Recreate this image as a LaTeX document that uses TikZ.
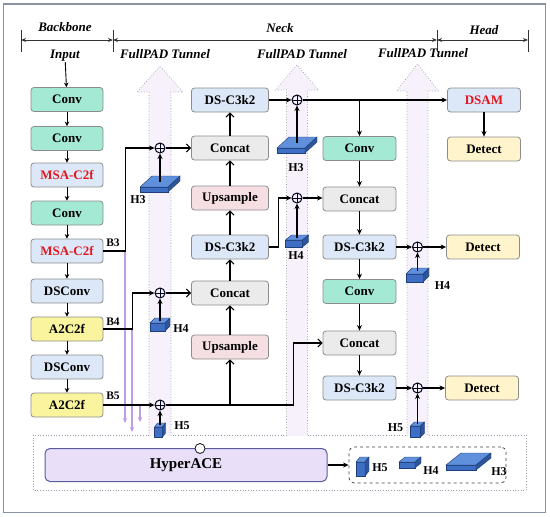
\documentclass[tikz,border=0pt]{standalone}
\usepackage{fontspec}
\setmainfont{Liberation Serif}
\usetikzlibrary{arrows.meta,calc}
\definecolor{convc}{HTML}{A3E9D4}
\definecolor{bluec}{HTML}{DCE8F8}
\definecolor{yelc}{HTML}{FBF49E}
\definecolor{detc}{HTML}{FFF4CC}
\definecolor{grayc}{HTML}{EBEBEB}
\definecolor{pinkc}{HTML}{F5DFE3}
\definecolor{hyperc}{HTML}{E9DFF8}
\definecolor{hyperb}{HTML}{5A5C9E}
\definecolor{boxb}{HTML}{8C8C8C}
\definecolor{redt}{HTML}{E3161E}
\definecolor{lav}{HTML}{BE9CEA}
\definecolor{tunf}{HTML}{F6F1FA}
\definecolor{tunl}{HTML}{9A9AAA}
\definecolor{cubeF}{HTML}{3F6FC4}
\definecolor{cubeT}{HTML}{6090DC}
\definecolor{cubeS}{HTML}{2D5599}
\definecolor{cubeE}{HTML}{1F3F7A}
\definecolor{framec}{HTML}{8A93A6}
\newcommand{\bcube}[6]{%
  \filldraw[fill=cubeF,draw=cubeE,line width=0.4pt] (#1,#2) rectangle ++(#3,-#4);
  \filldraw[fill=cubeT,draw=cubeE,line width=0.4pt] (#1,#2-#4) -- ++(#5,-#6) -- ++(#3,0) -- ++(-#5,#6) -- cycle;
  \filldraw[fill=cubeS,draw=cubeE,line width=0.4pt] (#1+#3,#2) -- ++(#5,-#6) -- ++(0,-#4) -- ++(-#5,#6) -- cycle;
}
\newcommand{\tunnel}[6]{%
  \fill[tunf] (#1,#4) -- (#1-#3,#5) -- (#1-#2,#5) -- (#1-#2,#6) -- (#1+#2,#6) -- (#1+#2,#5) -- (#1+#3,#5) -- cycle;
  \draw[tunl,dotted,line width=0.7pt] (#1-#2,#6) -- (#1-#2,#5) -- (#1-#3,#5) -- (#1,#4) -- (#1+#3,#5) -- (#1+#2,#5) -- (#1+#2,#6);
}
\tikzset{
  blk/.style={draw=boxb, line width=0.8pt, rounded corners=3pt, minimum height=24pt, inner sep=0pt, font=\fontsize{13}{15}\selectfont\bfseries},
  bb/.style={blk, minimum width=72pt},
  nk/.style={blk, minimum width=77pt},
  rk/.style={blk, minimum width=73pt},
  hdr/.style={font=\fontsize{13}{15}\selectfont\bfseries\itshape, inner sep=0pt},
  hl/.style={font=\fontsize{12}{14}\selectfont\bfseries, inner sep=0pt},
  bl/.style={font=\fontsize{11.5}{13}\selectfont\bfseries, inner sep=0pt},
  oplus/.style={circle, draw=black!90!blue, line width=1pt, minimum size=10pt, inner sep=0pt,
    path picture={\draw[line width=1pt] (path picture bounding box.north) -- (path picture bounding box.south) (path picture bounding box.west) -- (path picture bounding box.east);}},
  ar/.style={-{Stealth[length=5.5pt,width=5pt]}, line width=1.1pt},
  ob/.style={-{Straight Barb[length=4pt,width=8pt]}, line width=1.1pt},
  bar/.style={-{Stealth[length=4.5pt,width=4.5pt]}, line width=0.9pt},
  lv/.style={-{Stealth[length=5pt,width=4.5pt]}, line width=1.2pt, draw=lav},
  dim/.style={{Stealth[length=5pt,width=4pt]}-{Stealth[length=5pt,width=4pt]}, line width=0.9pt, draw=black!80},
}
\begin{document}
\begin{tikzpicture}[x=1pt,y=-1pt]
\useasboundingbox (0,0) rectangle (550,517);
\draw[framec, line width=1.2pt] (3.5,4) rectangle (545.5,512.5);

% header
\coordinate (t1) at (21,40); \coordinate (t2) at (113,40);
\coordinate (t3) at (437,40); \coordinate (t4) at (528,40);
\foreach \t in {t1,t2,t3,t4} \draw[line width=0.9pt, black!80] ($(\t)+(0,-10)$) -- ($(\t)+(0,12)$);
\draw[dim] (t1) -- (t2);
\draw[dim] (t2) -- (t3);
\draw[dim] (t3) -- (t4);
\node[hdr] (hB) at (65,27) {Backbone};
\node[hdr] (hN) at (280,28) {Neck};
\node[hdr] (hH) at (484,30) {Head};
\node[hdr] (inp) at (65,56) {Input};
\node[hdr] (f1) at (165,54) {FullPAD Tunnel};
\node[hdr] (f2) at (302,54) {FullPAD Tunnel};
\node[hdr] (f3) at (423,53) {FullPAD Tunnel};

% HyperACE region
\draw[tunl, dotted, line width=0.7pt] (33,435) rectangle (526,490);

% tunnels
\tunnel{160}{11}{23}{66}{92}{436}
\tunnel{297}{10.5}{21.5}{65}{90}{436}
\tunnel{417.5}{10.5}{21}{64}{91}{436}

% backbone
\node[bb, fill=convc] (c1) at (67,99.5) {Conv};
\node[bb, fill=convc] (c2) at (67,138.5) {Conv};
\node[bb, fill=bluec, text=redt] (m1) at (67,175) {MSA-C2f};
\node[bb, fill=convc] (c3) at (67,213) {Conv};
\node[bb, fill=bluec, text=redt] (m2) at (67,251) {MSA-C2f};
\node[bb, fill=bluec] (d1) at (67,291) {DSConv};
\node[bb, fill=yelc] (a1) at (67,329) {A2C2f};
\node[bb, fill=bluec] (d2) at (67,367) {DSConv};
\node[bb, fill=yelc] (a2) at (67,405) {A2C2f};
\foreach \a/\b in {inp/c1,c1/c2,c2/m1,m1/c3,c3/m2,m2/d1,d1/a1,a1/d2,d2/a2} \draw[bar] (\a) -- (\b);

% neck column 1
\node[nk, fill=bluec] (n1) at (230,100) {DS-C3k2};
\node[nk, fill=grayc] (n2) at (230,148) {Concat};
\node[nk, fill=pinkc] (n3) at (230,198) {Upsample};
\node[nk, fill=bluec] (n4) at (230,247) {DS-C3k2};
\node[nk, fill=grayc] (n5) at (230,293) {Concat};
\node[nk, fill=pinkc] (n6) at (230,347) {Upsample};

% neck column 2
\node[rk, fill=convc] (r1) at (359.5,148.5) {Conv};
\node[rk, fill=grayc] (r2) at (359.5,199) {Concat};
\node[rk, fill=bluec] (r3) at (359.5,247) {DS-C3k2};
\node[rk, fill=convc] (r4) at (359.5,291.5) {Conv};
\node[rk, fill=grayc] (r5) at (359.5,343) {Concat};
\node[rk, fill=bluec] (r6) at (359.5,388) {DS-C3k2};

% head
\node[rk, fill=bluec, text=redt] (h1) at (484,100) {DSAM};
\node[rk, fill=detc] (h2) at (484,149) {Detect};
\node[rk, fill=detc] (h3) at (483,247) {Detect};
\node[rk, fill=detc] (h4) at (482,388) {Detect};

% fusion points
\node[oplus] (p1) at (160,148) {};
\node[oplus] (p2) at (160,293) {};
\node[oplus] (p3) at (160,405) {};
\node[oplus] (q1) at (297,100) {};
\node[oplus] (q2) at (297,198) {};
\node[oplus] (s1) at (417.5,247) {};
\node[oplus] (s2) at (417.5,388) {};

% cubes in tunnels
\bcube{140}{192}{28}{5}{12}{11}
\coordinate (k1) at (160,182);
\bcube{150}{331}{15}{8}{5}{5}
\coordinate (k2) at (160,321);
\bcube{154.5}{437}{8}{10}{3}{4}
\coordinate (k3) at (160,425);
\bcube{277}{153}{28}{5}{12}{11}
\coordinate (k4) at (297,143);
\bcube{285.5}{247}{17}{7}{6}{5}
\coordinate (k5) at (297,238);
\bcube{406}{282}{17}{8}{6}{6}
\coordinate (k6) at (417.5,271);
\bcube{410.5}{437}{10}{11}{4}{4}
\coordinate (k7) at (417.5,424);
\foreach \a/\b in {k1/p1,k2/p2,k3/p3,k4/q1,k5/q2,k6/s1,k7/s2} \draw[ar] (\a) -- (\b.south);

\node[hl] (lh1) at (138,200) {H3};
\node[hl] (lh2) at (181,329) {H4};
\node[hl] (lh3) at (182,425.5) {H5};
\node[hl] (lh4) at (296,167.5) {H3};
\node[hl] (lh5) at (296,256) {H4};
\node[hl] (lh6) at (442.5,285.5) {H4};
\node[hl] (lh7) at (395.5,427.5) {H5};

% lavender feeds
\coordinate (v1) at (125,251); \coordinate (v1e) at (125,423);
\coordinate (v2) at (132,329); \coordinate (v2e) at (132,432);
\coordinate (v3) at (140,405); \coordinate (v3e) at (140,422);
\draw[lv] (v1) -- (v1e);
\draw[lv] (v2) -- (v2e);
\draw[lv] (v3) -- (v3e);

% backbone outputs
\draw[ar] (m2.east) -- ++(22,0) |- (p1.west);
\draw[ar] (a1.east) -- ++(29,0) |- (p2.west);
\draw[ar] (a2.east) -- (p3.west);
\node[bl] (b3) at (113,243) {B3};
\node[bl] (b4) at (113,322) {B4};
\node[bl] (b5) at (113,396) {B5};

% neck connections
\draw[ob] (p1) -- (n2);
\draw[ob] (p2) -- (n5);
\draw[ob] (p3.east) -- ++(128,0) |- (r5.west);
\draw[ob] (n6.south |- p3) -- (n6.south);
\foreach \a/\b in {n6/n5,n5/n4,n4/n3,n3/n2,n2/n1} \draw[ob] (\a) -- (\b);
\draw[ar] (n1) -- (q1);
\draw[ar] (q1) -- (h1);
\draw[ar] (r1.north |- q1) -- (r1.north);
\draw[ar] (n4.east) -- ++(10,0) |- (q2.west);
\draw[ar] (q2.east) -- (r2.west |- q2);
\foreach \a/\b in {r1/r2,r2/r3,r3/r4,r4/r5,r5/r6,h1/h2} \draw[ar] (\a) -- (\b);
\draw[ar] (r3) -- (s1);
\draw[ar] (s1) -- (h3.west |- s1);
\draw[ar] (r6) -- (s2);
\draw[ar] (s2) -- (h4);

% HyperACE
\node[draw=hyperb, fill=hyperc, rounded corners=5pt, line width=1pt, minimum width=282pt, minimum height=33pt, inner sep=0pt, font=\fontsize{15}{17}\selectfont\bfseries] (hyp) at (186,465) {HyperACE};
\node[circle, draw=black!85, fill=white, line width=0.9pt, minimum size=10pt, inner sep=0pt] (hc) at (200,448.5) {};
\node[draw=black!75, dashed, line width=0.8pt, rounded corners=5pt, minimum width=157pt, minimum height=36pt, inner sep=0pt] (hbox) at (427.5,465) {};
\draw[ar] (hyp.east) -- (hbox.west);
\bcube{356}{476}{9}{14}{4}{5}
\node[hl] (lx5) at (380,468) {H5};
\bcube{399}{468}{16}{6}{6}{5}
\node[hl] (lx4) at (431,471) {H4};
\bcube{446}{470}{30}{5}{15}{12}
\node[hl] (lx3) at (499,472) {H3};
\end{tikzpicture}
\end{document}
